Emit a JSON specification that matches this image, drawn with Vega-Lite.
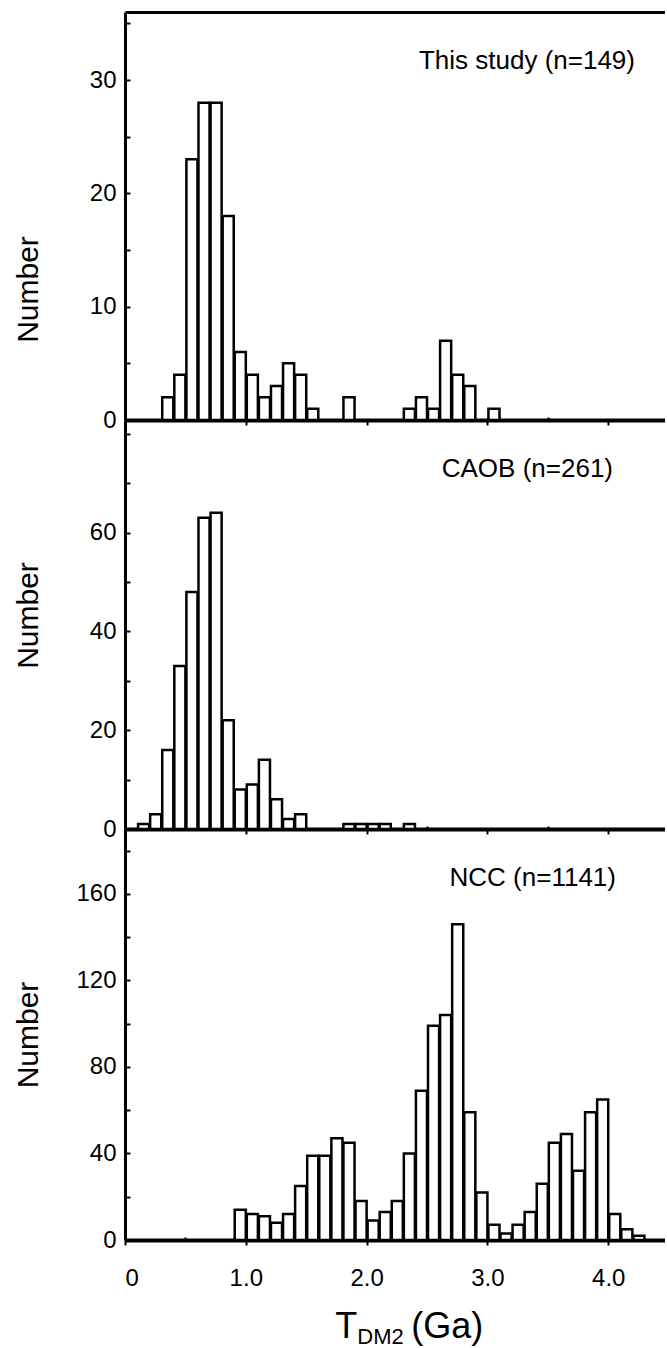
{
  "$schema": "https://vega.github.io/schema/vega-lite/v6.json",
  "padding": {"left": 13, "top": 12, "right": 0, "bottom": 0},
  "background": "white",
  "config": {
    "font": "Liberation Sans",
    "view": {"stroke": null},
    "axis": {
      "grid": false,
      "domainColor": "black",
      "tickColor": "black",
      "tickWidth": 2,
      "labelColor": "black",
      "titleColor": "black",
      "labelFont": "Liberation Sans",
      "titleFont": "Liberation Sans",
      "labelFontSize": 24,
      "titleFontSize": 30,
      "titleFontWeight": "normal"
    },
    "axisY": {
      "domainWidth": 3,
      "tickSize": -5,
      "labelPadding": 14,
      "minExtent": 60,
      "maxExtent": 60,
      "titlePadding": 22
    },
    "axisX": {"domainWidth": 4},
    "title": {"font": "Liberation Sans", "fontSize": 26, "fontWeight": "normal", "color": "black", "anchor": "end"}
  },
  "datasets": {
    "study": [
      {"start": 0.3, "end": 0.4, "n": 2}, {"start": 0.4, "end": 0.5, "n": 4}, {"start": 0.5, "end": 0.6, "n": 23},
      {"start": 0.6, "end": 0.7, "n": 28}, {"start": 0.7, "end": 0.8, "n": 28}, {"start": 0.8, "end": 0.9, "n": 18},
      {"start": 0.9, "end": 1.0, "n": 6}, {"start": 1.0, "end": 1.1, "n": 4}, {"start": 1.1, "end": 1.2, "n": 2},
      {"start": 1.2, "end": 1.3, "n": 3}, {"start": 1.3, "end": 1.4, "n": 5}, {"start": 1.4, "end": 1.5, "n": 4},
      {"start": 1.5, "end": 1.6, "n": 1}, {"start": 1.8, "end": 1.9, "n": 2}, {"start": 2.3, "end": 2.4, "n": 1},
      {"start": 2.4, "end": 2.5, "n": 2}, {"start": 2.5, "end": 2.6, "n": 1}, {"start": 2.6, "end": 2.7, "n": 7},
      {"start": 2.7, "end": 2.8, "n": 4}, {"start": 2.8, "end": 2.9, "n": 3}, {"start": 3.0, "end": 3.1, "n": 1}
    ],
    "caob": [
      {"start": 0.1, "end": 0.2, "n": 1}, {"start": 0.2, "end": 0.3, "n": 3}, {"start": 0.3, "end": 0.4, "n": 16},
      {"start": 0.4, "end": 0.5, "n": 33}, {"start": 0.5, "end": 0.6, "n": 48}, {"start": 0.6, "end": 0.7, "n": 63},
      {"start": 0.7, "end": 0.8, "n": 64}, {"start": 0.8, "end": 0.9, "n": 22}, {"start": 0.9, "end": 1.0, "n": 8},
      {"start": 1.0, "end": 1.1, "n": 9}, {"start": 1.1, "end": 1.2, "n": 14}, {"start": 1.2, "end": 1.3, "n": 6},
      {"start": 1.3, "end": 1.4, "n": 2}, {"start": 1.4, "end": 1.5, "n": 3}, {"start": 1.8, "end": 1.9, "n": 1},
      {"start": 1.9, "end": 2.0, "n": 1}, {"start": 2.0, "end": 2.1, "n": 1}, {"start": 2.1, "end": 2.2, "n": 1},
      {"start": 2.3, "end": 2.4, "n": 1}
    ],
    "ncc": [
      {"start": 0.9, "end": 1.0, "n": 14}, {"start": 1.0, "end": 1.1, "n": 12}, {"start": 1.1, "end": 1.2, "n": 11},
      {"start": 1.2, "end": 1.3, "n": 8}, {"start": 1.3, "end": 1.4, "n": 12}, {"start": 1.4, "end": 1.5, "n": 25},
      {"start": 1.5, "end": 1.6, "n": 39}, {"start": 1.6, "end": 1.7, "n": 39}, {"start": 1.7, "end": 1.8, "n": 47},
      {"start": 1.8, "end": 1.9, "n": 45}, {"start": 1.9, "end": 2.0, "n": 18}, {"start": 2.0, "end": 2.1, "n": 9},
      {"start": 2.1, "end": 2.2, "n": 13}, {"start": 2.2, "end": 2.3, "n": 18}, {"start": 2.3, "end": 2.4, "n": 40},
      {"start": 2.4, "end": 2.5, "n": 69}, {"start": 2.5, "end": 2.6, "n": 99}, {"start": 2.6, "end": 2.7, "n": 104},
      {"start": 2.7, "end": 2.8, "n": 146}, {"start": 2.8, "end": 2.9, "n": 59}, {"start": 2.9, "end": 3.0, "n": 22},
      {"start": 3.0, "end": 3.1, "n": 7}, {"start": 3.1, "end": 3.2, "n": 3}, {"start": 3.2, "end": 3.3, "n": 7},
      {"start": 3.3, "end": 3.4, "n": 13}, {"start": 3.4, "end": 3.5, "n": 26}, {"start": 3.5, "end": 3.6, "n": 45},
      {"start": 3.6, "end": 3.7, "n": 49}, {"start": 3.7, "end": 3.8, "n": 32}, {"start": 3.8, "end": 3.9, "n": 59},
      {"start": 3.9, "end": 4.0, "n": 65}, {"start": 4.0, "end": 4.1, "n": 12}, {"start": 4.1, "end": 4.2, "n": 5},
      {"start": 4.2, "end": 4.3, "n": 2}
    ],
    "xtitle": [{"title": "T_DM2 (Ga)"}]
  },
  "spacing": 0,
  "bounds": "flush",
  "vconcat": [
    {
      "width": 540,
      "height": 408,
      "data": {"name": "study"},
      "title": {"text": "This study (n=149)", "offset": -62, "dx": -30},
      "layer": [
        {
          "mark": {"type": "bar", "fill": "white", "stroke": "black", "strokeWidth": 2.5},
          "encoding": {
            "x": {"field": "start", "type": "quantitative", "bin": {"binned": true, "step": 0.1},
                  "scale": {"domain": [0, 4.47], "nice": false, "zero": false},
                  "axis": {"values": [0, 0.5, 1, 1.5, 2, 2.5, 3, 3.5, 4, 4.5], "labels": false, "title": null,
                           "tickSize": {"condition": {"test": "datum.value % 1 !== 0", "value": -3}, "value": 5}}},
            "x2": {"field": "end"},
            "y": {"field": "n", "type": "quantitative", "scale": {"domain": [0, 36], "nice": false},
                  "axis": {"title": "Number", "titleY": 277, "values": [0, 5, 10, 15, 20, 25, 30, 35],
                           "labelExpr": "datum.value % 10 === 0 ? datum.label : ''"}}
          }
        },
        {
          "mark": {"type": "rule", "opacity": 0},
          "encoding": {
            "x": {"field": "start", "type": "quantitative",
                  "scale": {"domain": [0, 4.47], "nice": false, "zero": false},
                  "axis": {"orient": "top", "labels": false, "ticks": false, "title": null, "domainWidth": 3}}
          }
        }
      ],
      "resolve": {"axis": {"x": "independent"}}
    },
    {
      "width": 540,
      "height": 409,
      "data": {"name": "caob"},
      "title": {"text": "CAOB (n=261)", "offset": -62, "dx": -52},
      "mark": {"type": "bar", "fill": "white", "stroke": "black", "strokeWidth": 2.5},
      "encoding": {
        "x": {"field": "start", "type": "quantitative", "bin": {"binned": true, "step": 0.1},
              "scale": {"domain": [0, 4.47], "nice": false, "zero": false},
              "axis": {"values": [0, 0.5, 1, 1.5, 2, 2.5, 3, 3.5, 4, 4.5], "labels": false, "title": null,
                       "tickSize": {"condition": {"test": "datum.value % 1 !== 0", "value": -3}, "value": 5}}},
        "x2": {"field": "end"},
        "y": {"field": "n", "type": "quantitative", "scale": {"domain": [0, 82.8], "nice": false},
              "axis": {"title": "Number", "titleY": 195, "values": [0, 10, 20, 30, 40, 50, 60, 70, 80],
                       "labelExpr": "datum.value % 20 === 0 && datum.value < 80 ? datum.label : ''"}}
      }
    },
    {
      "width": 540,
      "height": 411,
      "layer": [
        {
          "data": {"name": "ncc"},
          "title": {"text": "NCC (n=1141)", "offset": -62, "dx": -49},
          "mark": {"type": "bar", "fill": "white", "stroke": "black", "strokeWidth": 2.5},
          "encoding": {
            "x": {"field": "start", "type": "quantitative", "bin": {"binned": true, "step": 0.1},
                  "scale": {"domain": [0, 4.47], "nice": false, "zero": false},
                  "axis": {"values": [0, 0.5, 1, 1.5, 2, 2.5, 3, 3.5, 4, 4.5], "title": null, "labelPadding": 21,
                           "tickSize": {"condition": {"test": "datum.value % 1 !== 0", "value": -3}, "value": 5},
                           "labelExpr": "datum.value === 0 ? '0' : (datum.value % 1 === 0 ? format(datum.value, '.1f') : '')"}},
            "x2": {"field": "end"},
            "y": {"field": "n", "type": "quantitative", "scale": {"domain": [0, 190], "nice": false},
                  "axis": {"title": "Number", "values": [0, 20, 40, 60, 80, 100, 120, 140, 160, 180],
                           "labelExpr": "datum.value % 40 === 0 && datum.value <= 160 ? datum.label : ''"}}
          }
        },
        {
          "data": {"name": "xtitle"},
          "mark": {"type": "text", "align": "left", "baseline": "alphabetic", "fontSize": 36, "font": "Liberation Sans", "fill": "black"},
          "encoding": {"x": {"datum": 1.741}, "y": {"datum": -45.3}, "text": {"value": "T"}}
        },
        {
          "data": {"name": "xtitle"},
          "mark": {"type": "text", "align": "left", "baseline": "alphabetic", "fontSize": 22, "font": "Liberation Sans", "fill": "black"},
          "encoding": {"x": {"datum": 1.923}, "y": {"datum": -48.1}, "text": {"value": "DM2"}}
        },
        {
          "data": {"name": "xtitle"},
          "mark": {"type": "text", "align": "left", "baseline": "alphabetic", "fontSize": 36, "font": "Liberation Sans", "fill": "black"},
          "encoding": {"x": {"datum": 2.37}, "y": {"datum": -45.3}, "text": {"value": "(Ga)"}}
        }
      ]
    }
  ]
}
